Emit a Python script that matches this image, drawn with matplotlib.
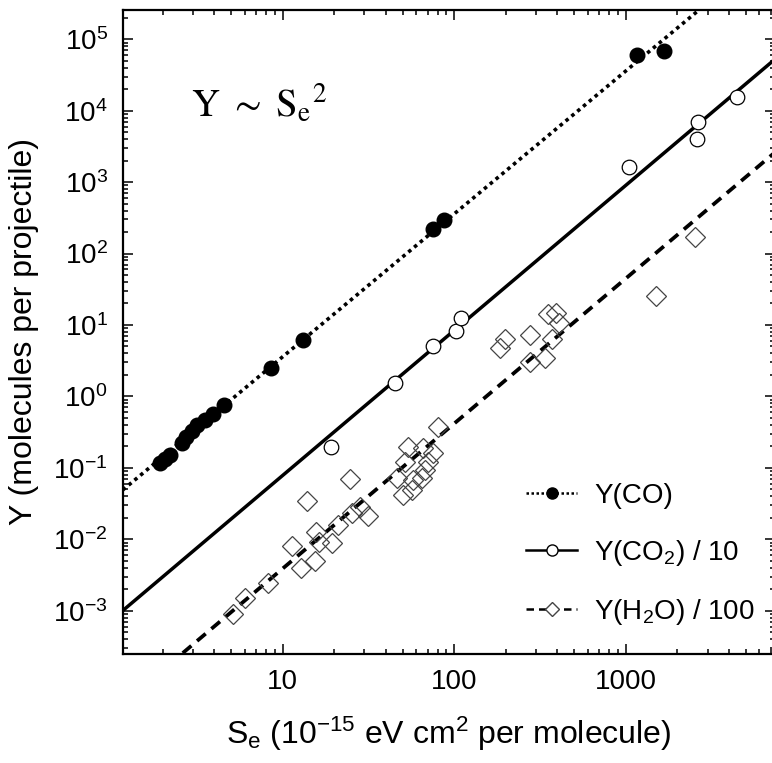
import numpy as np
import matplotlib.pyplot as plt
from matplotlib import ticker
from matplotlib.lines import Line2D

plt.rcParams['font.family'] = ['Liberation Sans', 'DejaVu Sans']
plt.rcParams['mathtext.fontset'] = 'custom'
plt.rcParams['mathtext.rm'] = 'Liberation Sans'
plt.rcParams['mathtext.it'] = 'Liberation Sans:italic'
plt.rcParams['mathtext.bf'] = 'Liberation Sans:bold'

# sputtering yields vs electronic stopping power
co_se = [1.93, 2.06, 2.20, 2.59, 2.73, 2.96, 3.16, 3.52, 3.92, 4.55,
         8.51, 13.2, 75.5, 87.1, 1169, 1672]
co_y = [0.116, 0.132, 0.151, 0.222, 0.269, 0.327, 0.396, 0.466, 0.565, 0.755,
        2.50, 6.08, 222, 292, 60300, 69200]

co2_se = [19.1, 45.2, 75.0, 102.4, 109.6, 1050, 2595, 2630, 4440]
co2_y = [0.197, 1.54, 5.13, 8.13, 12.5, 1622, 4020, 6950, 15400]

h2o_se = [5.15, 6.03, 8.24, 11.4, 12.8, 15.4, 15.7, 16.3, 19.4, 20.9,
          13.9, 24.7, 25.2, 28.2, 31.6,
          46.3, 50.5, 51.6, 54.0, 56.5, 57.8, 64.6, 66.0, 67.6, 70.6, 75.5, 80.8,
          185, 199, 277, 277, 340, 354, 393, 408, 373, 1503, 2535]
h2o_y = [9.0e-4, 1.49e-3, 2.42e-3, 7.98e-3, 3.93e-3, 4.97e-3, 0.0128, 9.27e-3, 8.89e-3, 0.0158,
         0.0344, 0.0706, 0.0237, 0.0286, 0.0215,
         0.0715, 0.0417, 0.122, 0.198, 0.049, 0.0676, 0.0714, 0.188, 0.0933, 0.122, 0.160, 0.377,
         4.72, 6.37, 7.31, 3.06, 3.42, 14.4, 14.7, 10.7, 6.31, 25.1, 172]

# power-law fits Y = a * Se^b
co_fit = (0.0359, 2.0)
co2_fit = (7.31e-4, 2.03)
h2o_fit = (3.63e-5, 2.03)

labels = ['Y(CO)', r'Y(CO$_2$) / 10', r'Y(H$_2$O) / 100']

fig = plt.figure(figsize=(7.72, 7.63), dpi=100)
ax = fig.add_axes([0.1593, 0.1429, 0.8446, 0.844])

se_line = np.logspace(0, 4, 60)
ax.plot(se_line, co_fit[0] * se_line**co_fit[1], color='k', lw=2.6, ls=(0, (1, 1.1)))
ax.plot(se_line, co2_fit[0] * se_line**co2_fit[1], color='k', lw=2.5, ls='-')
ax.plot(se_line, h2o_fit[0] * se_line**h2o_fit[1], color='k', lw=2.7, ls=(0, (3, 2)))

ax.plot(co_se, co_y, 'o', ms=10.5, mfc='k', mec='k', zorder=3)
ax.plot(co2_se, co2_y, 'o', ms=10.5, mfc='white', mec='k', mew=0.9, zorder=3)
ax.plot(h2o_se, h2o_y, 'D', ms=10, mfc='none', mec='#444444', mew=0.9, zorder=3)

ax.set_xscale('log')
ax.set_yscale('log')
ax.set_xlim(1.172, 7425)
ax.set_ylim(2.48e-4, 2.57e5)

ax.xaxis.set_major_formatter(ticker.FuncFormatter(lambda v, _: f'{v:g}'))
ax.xaxis.set_minor_formatter(ticker.NullFormatter())
ax.yaxis.set_major_locator(ticker.LogLocator(base=10, numticks=20))
ax.yaxis.set_minor_locator(ticker.LogLocator(base=10, subs=np.arange(2, 10), numticks=20))

ax.tick_params(which='both', direction='in', top=True, right=True, width=1.1)
ax.tick_params(which='major', length=7, labelsize=20, pad=11)
ax.tick_params(which='minor', length=3.5)
for s in ax.spines.values():
    s.set_linewidth(1.6)

ax.set_xlabel(r'S$_\mathrm{e}$ (10$^{-15}$ eV cm$^2$ per molecule)', fontsize=23, labelpad=14)
ax.set_ylabel('Y (molecules per projectile)', fontsize=23, labelpad=10)

ax.text(0.105, 0.835, r'$\mathrm{Y\ \sim\ S_e{}^2}$', transform=ax.transAxes,
        fontsize=28, math_fontfamily='stix')

handles = [
    Line2D([], [], color='k', lw=1.8, ls=(0, (1, 1)), marker='o', ms=8, mfc='k', mec='k'),
    Line2D([], [], color='k', lw=1.8, ls='-', marker='o', ms=8, mfc='white', mec='k'),
    Line2D([], [], color='k', lw=1.8, ls=(0, (3, 2)), marker='D', ms=7, mfc='white', mec='#444444'),
]
ax.legend(handles, labels, loc='center left', bbox_to_anchor=(0.618, 0.154),
          frameon=False, fontsize=20, handlelength=1.85, handletextpad=0.6,
          labelspacing=1.05, borderpad=0, borderaxespad=0)

fig.savefig('out.png', dpi=100)
